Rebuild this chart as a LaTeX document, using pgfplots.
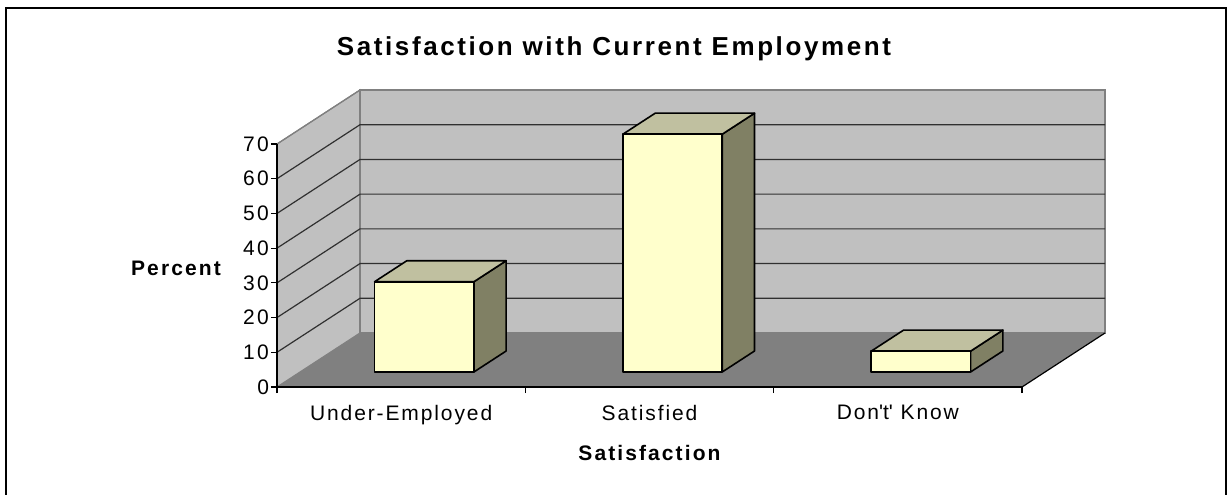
\documentclass[border=0pt]{standalone}
\usepackage{fontspec}
\setmainfont{Liberation Sans}
\newfontfamily\lsfont[LetterSpace=9]{Liberation Sans}
\newfontfamily\lstick[LetterSpace=12]{Liberation Sans}
\newfontfamily\lsbfont[LetterSpace=10]{Liberation Sans}
\newfontfamily\lstfont[LetterSpace=10]{Liberation Sans}
\usepackage{pgfplots}
\pgfplotsset{compat=1.18}
\definecolor{wall}{HTML}{C0C0C0}
\definecolor{floorc}{HTML}{808080}
\definecolor{walledge}{HTML}{808080}
\definecolor{gridc}{HTML}{303030}
\definecolor{barfront}{HTML}{FFFFCC}
\definecolor{bartop}{HTML}{C0C0A0}
\definecolor{barside}{HTML}{808064}
\newcommand{\lab}{\lsfont\fontsize{10.5}{12}\selectfont}
\newcommand{\tlab}{\lstick\fontsize{10.5}{12}\selectfont}
\newcommand{\blab}{\lsbfont\fontsize{10.5}{12}\selectfont\bfseries}
% cuboid: #1 left x, #2 right x, #3 value
\newcommand{\cuboid}[3]{%
  \addplot3[fill=barside, draw=black, line width=0.8pt, line join=round] coordinates {(#2,0.278,0) (#2,0.667,0) (#2,0.667,#3) (#2,0.278,#3)} -- cycle;
  \addplot3[fill=bartop, draw=black, line width=0.8pt, line join=round] coordinates {(#1,0.278,#3) (#2,0.278,#3) (#2,0.667,#3) (#1,0.667,#3)} -- cycle;
  \addplot3[fill=barfront, draw=black, line width=0.8pt, line join=round] coordinates {(#1,0.278,0) (#2,0.278,0) (#2,0.278,#3) (#1,0.278,#3)} -- cycle;
}
\begin{document}
\begin{tikzpicture}
\useasboundingbox (-138.5pt,-53.5pt) rectangle (475.5pt,193.5pt);
% 3D frame: walls, floor, bars
\begin{axis}[
  anchor=origin, at={(0pt,0pt)},
  x={(124.167pt,0pt)}, y={(41.5pt,27pt)}, z={(0pt,1.7357pt)},
  xmin=0, xmax=3, ymin=0, ymax=1, zmin=0, zmax=70,
  hide axis, clip=false, no markers,
]
% side wall
\addplot3[fill=wall, draw=walledge, line width=0.6pt] coordinates {(0,0,0) (0,1,0) (0,1,70) (0,0,70)} -- cycle;
% back wall
\addplot3[fill=wall, draw=walledge, line width=0.6pt] coordinates {(0,1,0) (3,1,0) (3,1,70) (0,1,70)} -- cycle;
% floor
\addplot3[fill=floorc, draw=none] coordinates {(0,0,0) (3,0,0) (3,1,0) (0,1,0)} -- cycle;
\addplot3[draw=walledge, line width=0.6pt] coordinates {(0,1,0) (3,1,0)};
\addplot3[draw=black, line width=0.6pt] coordinates {(3,0,0) (3,1,0)};
% gridlines
\addplot3[draw=gridc, line width=0.6pt] coordinates {(0,0,10) (0,1,10) (3,1,10)};
\addplot3[draw=gridc, line width=0.6pt] coordinates {(0,0,20) (0,1,20) (3,1,20)};
\addplot3[draw=gridc, line width=0.6pt] coordinates {(0,0,30) (0,1,30) (3,1,30)};
\addplot3[draw=gridc, line width=0.6pt] coordinates {(0,0,40) (0,1,40) (3,1,40)};
\addplot3[draw=gridc, line width=0.6pt] coordinates {(0,0,50) (0,1,50) (3,1,50)};
\addplot3[draw=gridc, line width=0.6pt] coordinates {(0,0,60) (0,1,60) (3,1,60)};
\addplot3[draw=walledge, line width=0.6pt] coordinates {(0,0,70) (0,1,70) (3,1,70)};
% bars: Under-Employed 26, Satisfied 68.5, Don't Know 6
\cuboid{0.3}{0.7}{26}
\cuboid{1.3}{1.7}{68.5}
\cuboid{2.3}{2.7}{6}
\end{axis}
% 2D axis for front axis lines, ticks and labels
\begin{axis}[
  anchor=origin, at={(0pt,0pt)},
  x={(124.167pt,0pt)}, y={(0pt,1.7357pt)},
  xmin=0, xmax=3, ymin=0, ymax=70,
  axis x line*=bottom, axis y line*=left,
  axis line style={black, line width=0.6pt, -},
  tick style={black, line width=0.6pt},
  tick align=outside, major tick length=3pt,
  xtick={0,1,2,3}, xticklabels={,,,},
  extra x ticks={0.5,1.5,2.5},
  extra x tick labels={Under-Employed,Satisfied,Don\textquotesingle t\textquotesingle\ Know},
  extra x tick style={major tick length=0pt},
  xticklabel style={yshift=-5.5pt, font=\lab},
  yticklabel style={xshift=2.5pt, font=\tlab},
  ytick={0,10,...,70},
  /pgf/number format/assume math mode=true,
  xlabel={Satisfaction}, ylabel={Percent},
  title={Satisfaction with Current Employment},
  every axis x label/.style={at={(axis description cs:0.5,-0.2716)},anchor=center,font=\blab},
  every axis y label/.style={at={(axis description cs:-0.1356,0.4897)},anchor=center,font=\blab},
  every axis title/.style={at={(axis description cs:0.4523,1.391)},anchor=center,font=\lstfont\fontsize{13}{15}\selectfont\bfseries},
]
\end{axis}
\draw[line width=1pt] (-135.5pt,-60pt) -- (-135.5pt,189.5pt) -- (474.5pt,189.5pt) -- (474.5pt,-60pt);
\end{tikzpicture}
\end{document}
